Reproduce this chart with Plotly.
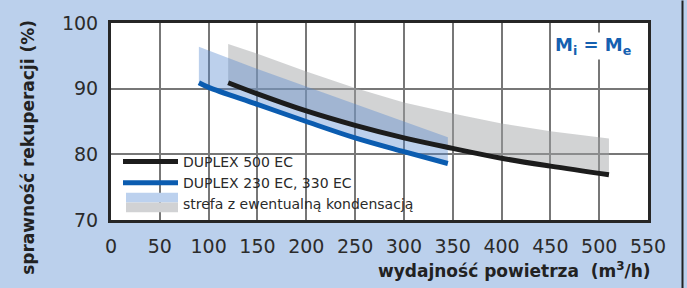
import plotly.graph_objects as go

# ---- data ----
x_500 = [120, 150, 200, 250, 300, 350, 400, 450, 510]
y_500 = [90.9, 89.2, 86.6, 84.4, 82.5, 80.9, 79.4, 78.2, 76.9]
band_500_top = [96.8, 95.3, 92.6, 90.1, 87.9, 86.2, 84.7, 83.5, 82.4]

x_230 = [90, 100, 150, 200, 250, 300, 345]
y_230 = [90.9, 90.2, 87.6, 85.0, 82.5, 80.4, 78.6]
band_230_top = [96.4, 95.8, 93.0, 90.3, 87.6, 85.0, 82.6]

x_ticks = [0, 50, 100, 150, 200, 250, 300, 350, 400, 450, 500, 550]
y_ticks = [70, 80, 90, 100]

name_500 = "DUPLEX 500 EC"
name_230 = "DUPLEX 230 EC, 330 EC"
name_band = "strefa z ewentualną kondensacją"

BG = "#bbd0ec"
W, H = 687, 288
L, R, T, B = 111, 39, 18, 68
pw, ph = W - L - R, H - T - B

def px_x(p):
    return (p - L) / pw

def px_y(p):
    return (H - B - p) / ph

fig = go.Figure()

# grey band (DUPLEX 500 EC condensation zone)
fig.add_trace(go.Scatter(
    x=x_500 + x_500[::-1], y=band_500_top + y_500[::-1],
    fill="toself", fillcolor="rgba(160,162,166,0.48)",
    line=dict(width=0), mode="lines", hoverinfo="skip", showlegend=False))
# blue band
fig.add_trace(go.Scatter(
    x=x_230 + x_230[::-1], y=band_230_top + y_230[::-1],
    fill="toself", fillcolor="rgba(87,137,207,0.40)",
    line=dict(width=0), mode="lines", hoverinfo="skip", showlegend=False))

fig.add_trace(go.Scatter(x=x_500, y=y_500, mode="lines", name=name_500,
                         line=dict(color="#1c1c1c", width=5, shape="spline")))
fig.add_trace(go.Scatter(x=x_230, y=y_230, mode="lines", name=name_230,
                         line=dict(color="#0b5cb0", width=5, shape="spline")))
# legend proxy for band (swatch drawn as two rectangles below)
fig.add_trace(go.Scatter(x=[None], y=[None], mode="lines", name=name_band,
                         line=dict(color="rgba(0,0,0,0)", width=1)))

shapes = []
# white boxes behind legend text (between grid and traces)
for (x0, x1, y0, y1) in [(113, 335, 146, 172), (113, 410, 172, 192), (113, 468, 192, 218)]:
    shapes.append(dict(type="rect", xref="paper", yref="paper", layer="between",
                       x0=px_x(x0), x1=px_x(x1), y0=px_y(y1), y1=px_y(y0),
                       fillcolor="white", line=dict(width=0)))
# two-tone band swatch
SW_Y = 202
shapes.append(dict(type="rect", xref="paper", yref="paper", layer="above",
                   x0=px_x(126), x1=px_x(178), y0=px_y(SW_Y), y1=px_y(SW_Y - 10),
                   fillcolor="#bcd1ee", line=dict(width=0)))
shapes.append(dict(type="rect", xref="paper", yref="paper", layer="above",
                   x0=px_x(126), x1=px_x(178), y0=px_y(SW_Y + 10), y1=px_y(SW_Y),
                   fillcolor="#d1d2d4", line=dict(width=0)))
# outer right frame line
shapes.append(dict(type="line", xref="paper", yref="paper",
                   x0=px_x(682.5), x1=px_x(682.5), y0=px_y(H + 5), y1=px_y(-5),
                   line=dict(color="#222222", width=2)))

axis_common = dict(showline=True, linecolor="#262626", linewidth=3, mirror=True,
                   showgrid=True, gridcolor="#777777", gridwidth=1.6,
                   zeroline=False, ticks="",
                   tickfont=dict(family="DejaVu Sans", size=19, color="#2b2b2b"))

fig.update_layout(
    width=W, height=H,
    margin=dict(l=L, r=R, t=T, b=B),
    paper_bgcolor=BG, plot_bgcolor="white",
    xaxis=dict(range=[0, 550], tickvals=x_ticks, ticklabelstandoff=7, **axis_common),
    yaxis=dict(range=[70, 100], tickvals=y_ticks, ticklabelstandoff=6, **axis_common),
    legend=dict(x=px_x(118), y=px_y(144), xanchor="left", yanchor="top",
                bgcolor="rgba(0,0,0,0)", borderwidth=0, itemwidth=55,
                tracegroupgap=0,
                font=dict(family="DejaVu Sans", size=14, color="#2a2a2a")),
    shapes=shapes,
    annotations=[
        dict(text="sprawność rekuperacji (%)", textangle=-90, showarrow=False,
             xref="paper", yref="paper", x=px_x(28), y=px_y(146),
             xanchor="center", yanchor="middle",
             font=dict(family="DejaVu Sans", size=17, color="#222222", weight="bold")),
        dict(text="wydajność powietrza  (m<sup>3</sup>/h)", showarrow=False,
             xref="paper", yref="paper", x=px_x(653), y=px_y(271),
             xanchor="right", yanchor="middle",
             font=dict(family="DejaVu Sans", size=17, color="#222222", weight="bold")),
        dict(text="M<sub>i</sub> = M<sub>e</sub>", showarrow=False,
             xref="paper", yref="paper", x=px_x(593), y=px_y(42),
             xanchor="center", yanchor="middle",
             bgcolor="white",
             font=dict(family="DejaVu Sans", size=18, color="#1560b0", weight="bold")),
    ],
    showlegend=True,
)

fig.write_html("out.html", config={"displayModeBar": False},
               post_script="document.body.style.margin='0';")
